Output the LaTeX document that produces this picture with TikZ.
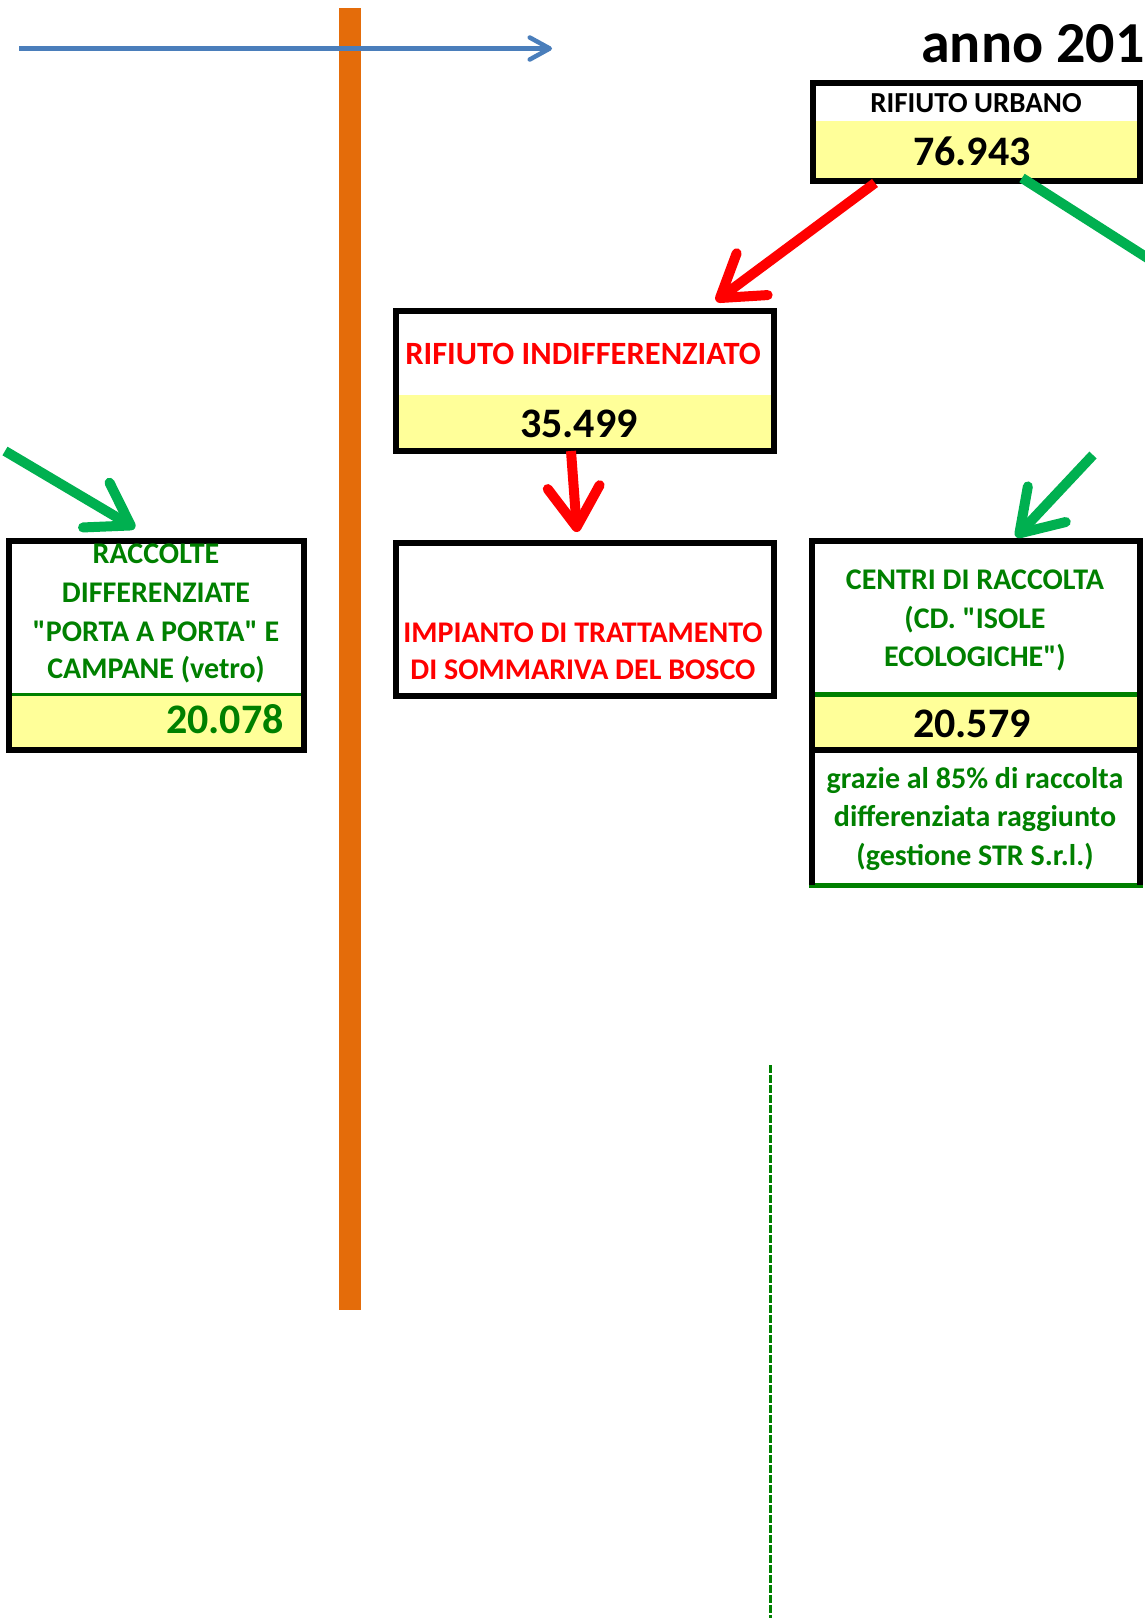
\documentclass[tikz,border=0pt]{standalone}
\usepackage{fontspec}
\setmainfont{Carlito}
\usepackage{xcolor}
\usepackage{tikz}
\usetikzlibrary{positioning,arrows.meta}
\definecolor{wasteorange}{RGB}{228,108,10}
\definecolor{flowblue}{RGB}{74,126,187}
\definecolor{cellyellow}{RGB}{255,255,153}
\definecolor{flowgreen}{RGB}{0,176,80}
\definecolor{textgreen}{RGB}{0,128,0}
\definecolor{flowred}{RGB}{255,0,0}

\begin{document}
\begin{tikzpicture}[x=1pt, y=-1pt,
  cell/.style={draw=black, line width=6pt, inner sep=0pt},
  lbl/.style={anchor=base, inner sep=0pt, font=\fontsize{30}{36}\selectfont\bfseries},
  num/.style={anchor=base, inner sep=0pt, font=\fontsize{42}{50}\selectfont\bfseries},
  flow/.style={line width=10pt, -{Straight Barb[length=40pt, width=52pt, round]}}]
  \useasboundingbox (0,0) rectangle (1144,1618);

  % time line and separator
  \fill[wasteorange] (339,8) rectangle (361,1310);
  \coordinate (tStart) at (19,48.5);
  \coordinate (tEnd) at (552,48.5);
  \draw[flowblue, line width=4.5pt, -{Straight Barb[length=20pt, width=22pt, round]}] (tStart) -- (tEnd);
  \node[anchor=base west, inner sep=0pt, font=\fontsize{58}{70}\selectfont\bfseries] (anno) at (921,62) {anno 201};

  % yellow cells
  \foreach \xa/\ya/\xb/\yb in {812/121/1140/178, 395/395/774/448, 9/696/303/747, 812/697/1140/747}
    \fill[cellyellow] (\xa,\ya) rectangle (\xb,\yb);

  % boxes
  \node[cell, minimum width=327.5pt, minimum height=98pt] (urbano) at (976.25,132) {};
  \node[cell, minimum width=378.5pt, minimum height=140pt] (indiff) at (584.75,381) {};
  \node[cell, minimum width=378.5pt, minimum height=153pt] (impianto) at (584.75,619.5) {};
  \node[inner sep=0pt, minimum width=294.5pt, minimum height=209pt] (raccolte) at (156.25,645.5) {};
  \node[inner sep=0pt, minimum width=328pt, minimum height=344pt] (centri) at (976,713) {};
  \draw[textgreen, line width=3pt] (9,694) -- (303,694);
  \draw[cell] (raccolte.south west) rectangle (raccolte.north east);
  \draw[textgreen, line width=5pt] (812,694.5) -- (1140,694.5);
  \draw[black, line width=6pt] (812,750) -- (1140,750);
  \draw[textgreen, line width=5pt] ([xshift=-3pt]centri.south west) -- ([xshift=3pt]centri.south east);
  \draw[black, line width=6pt] (centri.south west) -- (centri.north west) -- (centri.north east) -- (centri.south east);

  % texts
  \node[lbl, font=\fontsize{29}{34}\selectfont\bfseries] (urbanoT) at (976,112) {RIFIUTO URBANO};
  \node[num] (urbanoN) at (972,165) {76.943};
  \node[lbl, text=flowred, font=\fontsize{32.5}{38}\selectfont\bfseries] (indiffT) at (583,364) {RIFIUTO INDIFFERENZIATO};
  \node[num] (indiffN) at (579,437) {35.499};
  \foreach \ty/\txt in {642/IMPIANTO DI TRATTAMENTO, 679/DI SOMMARIVA DEL BOSCO}
    \node[lbl, text=flowred] (impianto\ty) at (583,\ty) {\txt};
  \foreach \ty/\txt in {563/RACCOLTE, 602/DIFFERENZIATE, 641/\textquotedbl PORTA A PORTA\textquotedbl{} E, 678/CAMPANE (vetro)}
    \node[lbl, text=textgreen] (raccolte\ty) at (156,\ty) {\txt};
  \node[num, anchor=base east, text=textgreen] (raccolteN) at (284,733) {20.078};
  \foreach \ty/\txt in {589/CENTRI DI RACCOLTA, 628/(CD. \textquotedbl ISOLE, 666/ECOLOGICHE\textquotedbl)}
    \node[lbl, text=textgreen] (centri\ty) at (975,\ty) {\txt};
  \node[num] (centriN) at (972,737) {20.579};
  \foreach \ty/\txt in {788/grazie al 85\% di raccolta, 826/differenziata raggiunto, 865/(gestione STR S.r.l.)}
    \node[lbl, text=textgreen] (nota\ty) at (975,\ty) {\txt};

  % flows
  \coordinate (redA) at (875,183);
  \coordinate (redB) at (716,301);
  \coordinate (redC) at (571,451);
  \coordinate (redD) at (577,532);
  \coordinate (grnA) at (1022,178);
  \coordinate (grnB) at (1160,266);
  \coordinate (grnC) at (5,451);
  \coordinate (grnD) at (135,528);
  \coordinate (grnE) at (1093,455);
  \coordinate (grnF) at (1016,537);
  \draw[flow, flowred] (redA) -- (redB);
  \draw[flow, flowred] (redC) -- (redD);
  \draw[flowgreen, line width=10pt] (grnA) -- (grnB);
  \draw[flow, flowgreen] (grnC) -- (grnD);
  \draw[flow, flowgreen] (grnE) -- (grnF);

  % dashed guide
  \draw[textgreen, line width=3pt, dash pattern=on 8pt off 2pt] (770.5,1065) -- (770.5,1618);
\end{tikzpicture}
\end{document}
